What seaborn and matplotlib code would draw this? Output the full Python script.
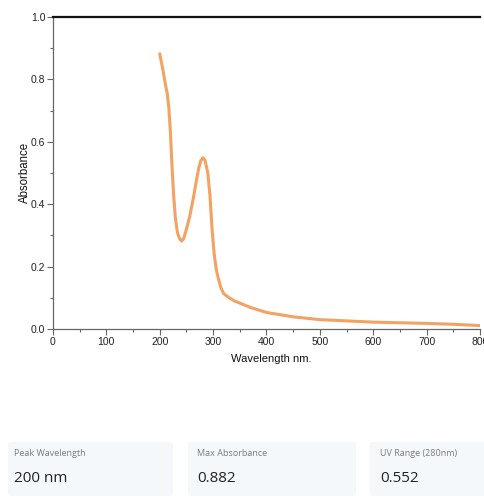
import matplotlib
matplotlib.use("Agg")
import matplotlib.pyplot as plt
import seaborn as sns
import pandas as pd
from matplotlib.patches import FancyBboxPatch
from matplotlib.ticker import MultipleLocator

wavelength = [200, 206, 211, 214, 217, 220, 223, 226, 229, 233, 237, 241, 245, 250,
              256, 263, 268, 273, 277, 281, 285, 290, 294, 298, 302, 306, 310, 315,
              320, 330, 340, 350, 370, 400, 450, 500, 550, 600, 650, 700, 750, 800]
absorbance = [0.882, 0.83, 0.78, 0.755, 0.71, 0.63, 0.52, 0.43, 0.36, 0.31, 0.29, 0.282,
              0.29, 0.32, 0.36, 0.42, 0.47, 0.515, 0.54, 0.549, 0.54, 0.50, 0.43, 0.32,
              0.24, 0.19, 0.16, 0.13, 0.113, 0.10, 0.09, 0.083, 0.069, 0.053, 0.039,
              0.030, 0.026, 0.022, 0.020, 0.018, 0.015, 0.011]

card_labels = ["Peak Wavelength", "Max Absorbance", "UV Range (280nm)"]
card_values = ["200 nm", "0.882", "0.552"]

sns.set_style("white")
plt.rcParams['font.family'] = ['Liberation Sans', 'DejaVu Sans']

W, H = 485, 496
AXW = 480 - 53
AXH = 329 - 17
fig = plt.figure(figsize=(W / 100, H / 100), dpi=100)
ax = fig.add_axes([53 / W, 1 - 329 / H, AXW / W, AXH / H])

df = pd.DataFrame({"Wavelength": wavelength, "Absorbance": absorbance})
sns.lineplot(data=df, x="Wavelength", y="Absorbance", ax=ax, color="#f2a262", linewidth=2.2)

ax.set_xlim(0, 800)
ax.set_ylim(0, 1.0)
ax.xaxis.set_major_locator(MultipleLocator(100))
ax.xaxis.set_minor_locator(MultipleLocator(50))
ax.yaxis.set_major_locator(MultipleLocator(0.2))
ax.yaxis.set_minor_locator(MultipleLocator(0.1))
ax.yaxis.set_major_formatter(plt.FuncFormatter(lambda v, p: f"{v:.1f}"))

for s in ["left", "bottom"]:
    ax.spines[s].set_color("#666666")
    ax.spines[s].set_linewidth(0.9)
ax.spines["right"].set_visible(False)
ax.spines["top"].set_color("#111111")
ax.spines["top"].set_linewidth(1.6)

ax.tick_params(axis="both", which="major", direction="out", length=4, width=0.8,
               color="#666666", labelsize=7.5, labelcolor="#222222", pad=1.5,
               bottom=True, left=True)
ax.tick_params(axis="both", which="minor", direction="out", length=2.5, width=0.8,
               color="#666666", bottom=True, left=True)

ax.set_xlabel("Wavelength nm.", fontsize=8, color="#111111")
ax.xaxis.set_label_coords((271 - 53) / AXW, -(354 - 329) / AXH)
ax.set_ylabel("Absorbance", fontsize=8.3, color="#111111")
ax.yaxis.set_label_coords(-(53 - 31) / AXW, (329 - 172) / AXH)

# Summary cards
cards = [(8, 173, 14), (188, 356, 197), (370, 492, 380)]
for (x0, x1, tx), lab, val in zip(cards, card_labels, card_values):
    p = FancyBboxPatch((x0 / W, 0), (x1 - x0) / W, (H - 442) / H,
                       boxstyle="round,pad=0,rounding_size=0.006",
                       transform=fig.transFigure, facecolor="#f5f8fb",
                       edgecolor="none", zorder=0)
    fig.patches.append(p)
    fig.text(tx / W, 1 - 454 / H, lab, fontsize=6.5, color="#7a7a7a",
             family=["Open Sans", "DejaVu Sans"], va="center", ha="left")
    fig.text(tx / W, 1 - 479 / H, val, fontsize=11, color="#222222",
             family=["Open Sans", "DejaVu Sans"], va="center", ha="left")

fig.savefig("out.png", dpi=100)
